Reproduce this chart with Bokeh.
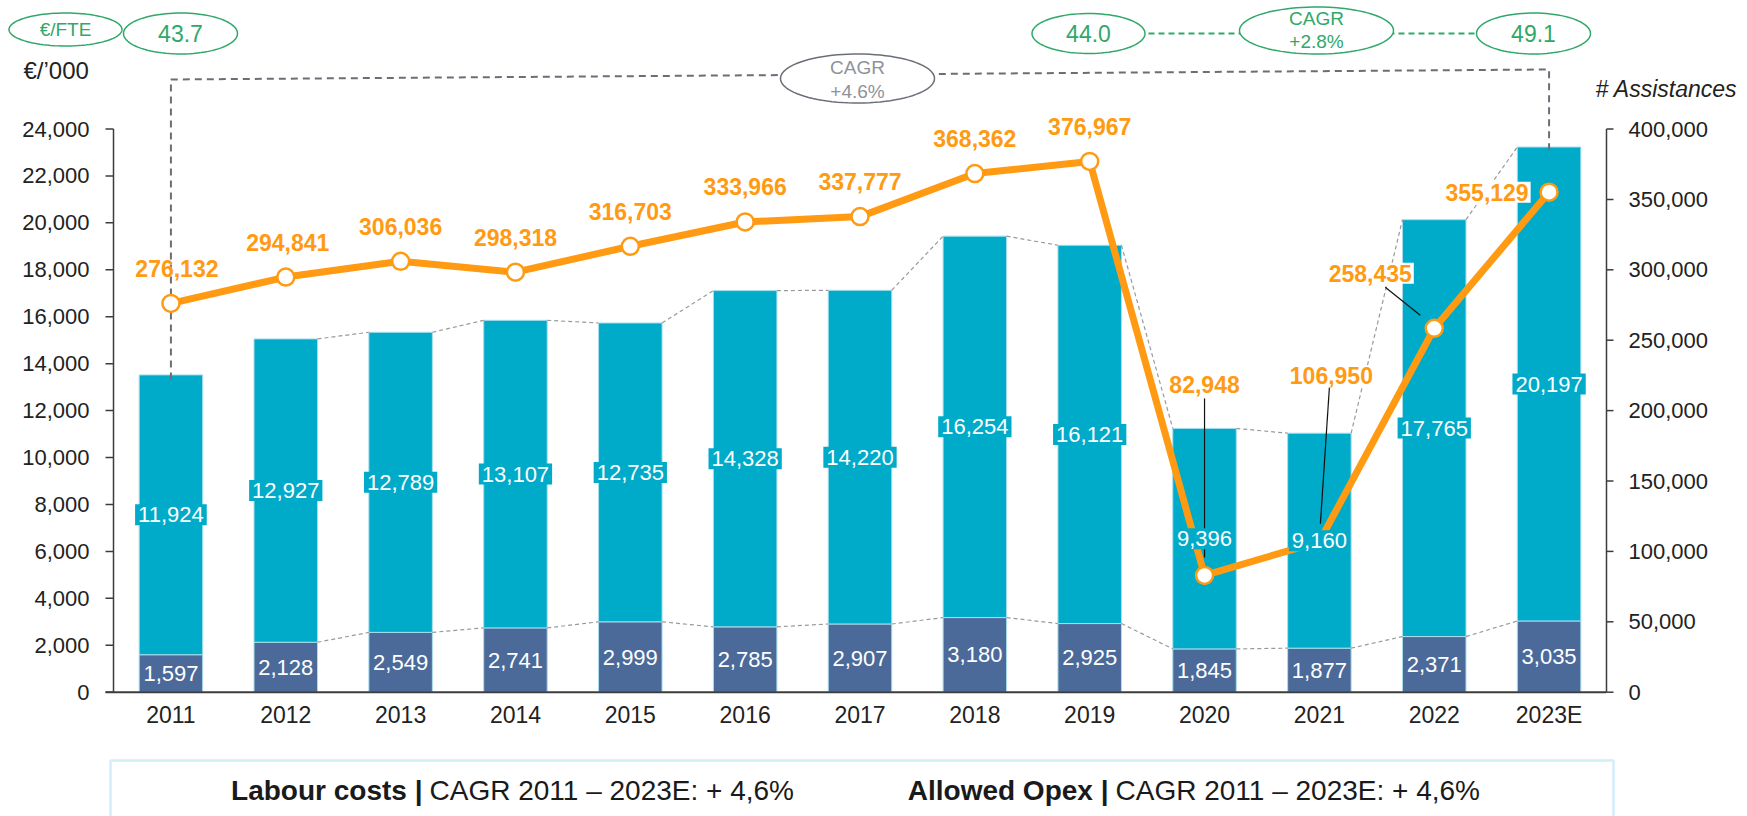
import numpy as np
from bokeh.plotting import figure
from bokeh.models import Range1d, Label, PolyAnnotation, ColumnDataSource
from bokeh.core.properties import value
from bokeh.embed import file_html
from bokeh.resources import INLINE

# ---------------- data ----------------
years = ["2011", "2012", "2013", "2014", "2015", "2016", "2017",
         "2018", "2019", "2020", "2021", "2022", "2023E"]
labour_costs = [1597, 2128, 2549, 2741, 2999, 2785, 2907, 3180, 2925, 1845, 1877, 2371, 3035]
other_opex = [11924, 12927, 12789, 13107, 12735, 14328, 14220, 16254, 16121, 9396, 9160, 17765, 20197]
assistances = [276132, 294841, 306036, 298318, 316703, 333966, 337777,
               368362, 376967, 82948, 106950, 258435, 355129]
left_ticks = [0, 2000, 4000, 6000, 8000, 10000, 12000, 14000, 16000, 18000, 20000, 22000, 24000]
right_ticks = [0, 50000, 100000, 150000, 200000, 250000, 300000, 350000, 400000]
fte_unit = "€/FTE"
fte_2011 = "43.7"
fte_2020 = "44.0"
fte_2023 = "49.1"
fte_cagr = ["CAGR", "+2.8%"]
opex_cagr = ["CAGR", "+4.6%"]
left_title = "€/’000"
right_title = "# Assistances"
caption_bold = ["Labour costs |", "Allowed Opex |"]
caption_text = ["CAGR 2011 – 2023E:  + 4,6%", "CAGR 2011 – 2023E:  + 4,6%"]

# ---------------- style ----------------
TEAL = "#00ABC9"
DARK = "#4B6A99"
EDGE = "#A9DDEC"
ORANGE = "#FF9A12"
GREEN = "#2FA86A"
GRAYLINE = "#6A6F77"
GRAYTXT = "#8E939B"
AXIS = "#3C3C3C"
INK = "#222222"
FONT = "Liberation Sans"

FIG_W, FIG_H = 1747, 816
AX_L_PX, AX_R_PX = 113, 1606      # pixel positions of the two value axes
ZERO_Y = 691.7
PPY = 563.2 / 24000
AX_L, AX_R = -0.5, 12.5           # data positions of the two value axes
PPX = (AX_R_PX - AX_L_PX) / (AX_R - AX_L)
RS = 400000 / 24000
BAR_W = 0.553


def dx(px):
    return AX_L + (px - AX_L_PX) / PPX


def dy(py):
    return (ZERO_Y - py) / PPY


p = figure(width=FIG_W, height=FIG_H, output_backend="svg", toolbar_location=None,
           x_range=Range1d(dx(0), dx(FIG_W)), y_range=Range1d(dy(FIG_H), dy(0)),
           x_axis_location=None, y_axis_location=None,
           min_border_left=0, min_border_right=0, min_border_top=0, min_border_bottom=0,
           outline_line_color=None, background_fill_color="white",
           border_fill_color="white")
p.extra_y_ranges = {"r": Range1d(dy(FIG_H) * RS, dy(0) * RS)}
p.grid.grid_line_color = None

idx = list(range(len(years)))
total = [a + b for a, b in zip(labour_costs, other_opex)]
src = ColumnDataSource(dict(x=idx, base=labour_costs, total=total,
                            mid_top=[a + b / 2 for a, b in zip(labour_costs, other_opex)],
                            mid_base=[a / 2 for a in labour_costs],
                            lab_top=[f"{v:,}" for v in other_opex],
                            lab_base=[f"{v:,}" for v in labour_costs],
                            assist=assistances))

# ---- bars
p.vbar(x="x", bottom=0, top="base", width=BAR_W, fill_color=DARK, line_color=EDGE,
       line_width=1, source=src)
p.vbar(x="x", bottom="base", top="total", width=BAR_W, fill_color=TEAL, line_color=EDGE,
       line_width=1, source=src)

# dashed connectors between bar tops (from 2012 on)
for series in (total, labour_costs):
    x0s = [i + BAR_W / 2 for i in idx[1:-1]]
    x1s = [i + 1 - BAR_W / 2 for i in idx[1:-1]]
    y0s = [series[i] for i in idx[1:-1]]
    y1s = [series[i + 1] for i in idx[1:-1]]
    p.segment(x0=x0s, y0=y0s, x1=x1s, y1=y1s, line_color="#9A9A9A", line_width=1.2,
              line_dash="4 3")

# ---- axes
# x axis
p.segment(x0=[AX_L - 8 / PPX], y0=[0], x1=[AX_R], y1=[0], line_color=AXIS, line_width=2)
p.text(x=idx, y=[0] * len(idx), text=years, y_offset=22.5, text_align="center",
       text_baseline="middle", text_font=value(FONT), text_font_size="23px",
       text_color=INK)
# left value axis
p.segment(x0=[AX_L], y0=[left_ticks[0]], x1=[AX_L], y1=[left_ticks[-1]],
          line_color=AXIS, line_width=1.5)
p.segment(x0=[AX_L - 8 / PPX] * len(left_ticks), y0=left_ticks,
          x1=[AX_L] * len(left_ticks), y1=left_ticks, line_color=AXIS, line_width=1.5)
p.text(x=[AX_L] * len(left_ticks), y=left_ticks, text=[f"{v:,}" for v in left_ticks],
       x_offset=-24, text_align="right", text_baseline="middle", text_font=value(FONT),
       text_font_size="22px", text_color=INK)
# right value axis
p.segment(x0=[AX_R], y0=[right_ticks[0]], x1=[AX_R], y1=[right_ticks[-1]],
          y_range_name="r", line_color=AXIS, line_width=1.5)
p.segment(x0=[AX_R] * len(right_ticks), y0=right_ticks,
          x1=[AX_R + 7 / PPX] * len(right_ticks), y1=right_ticks, y_range_name="r",
          line_color=AXIS, line_width=1.5)
p.text(x=[AX_R] * len(right_ticks), y=right_ticks, text=[f"{v:,}" for v in right_ticks],
       x_offset=22, y_range_name="r", text_align="left", text_baseline="middle",
       text_font=value(FONT), text_font_size="22px", text_color=INK)

# overall CAGR frame line
p.line(x=[idx[0], idx[0], idx[-1], idx[-1]],
       y=[total[0] - 200, dy(79), dy(69), total[-1] - 380],
       line_color=GRAYLINE, line_width=2, line_dash="7 5")

# green dashed connector
p.line(x=[dx(1088), dx(1533)], y=[dy(33), dy(33)], line_color=GREEN, line_width=1.8,
       line_dash="6 4")

# ---- assistances line
p.line(x="x", y="assist", y_range_name="r", source=src, line_color=ORANGE, line_width=7,
       line_join="round")

# leader lines (pixel offsets from the points)
leaders = {9: ((0, -177), (0, -18)), 10: ((10, -154), (1, -18)), 11: ((-49, -41), (-14, -13))}
lx0, ly0, lx1, ly1 = [], [], [], []
for i, ((ax0, ay0), (ax1, ay1)) in leaders.items():
    lx0.append(i + ax0 / PPX)
    ly0.append(assistances[i] - ay0 / PPY * RS)
    lx1.append(i + ax1 / PPX)
    ly1.append(assistances[i] - ay1 / PPY * RS)
p.segment(x0=lx0, y0=ly0, x1=lx1, y1=ly1, y_range_name="r", line_color="#111111",
          line_width=1.2)

p.scatter(x="x", y="assist", y_range_name="r", source=src, size=17, fill_color="white",
          line_color=ORANGE, line_width=2.5)

# segment labels
p.text(x="x", y="mid_top", text="lab_top", source=src, text_align="center",
       text_baseline="middle", text_color="white", text_font=value(FONT),
       text_font_size="22px", background_fill_color=TEAL, padding=3)
p.text(x="x", y="mid_base", text="lab_base", source=src, text_align="center",
       text_baseline="middle", text_color="white", text_font=value(FONT),
       text_font_size="22px")

# assistances labels
lab_dx = [6, 2, 0, 0, 0, 0, 0, 0, 0, 0, 12, -64, -62]
lab_dy = [-35, -35, -35, -35, -35, -35, -35, -35, -35, -191, -166, -55, 0]
lab_bg = [0] + [1] * (len(idx) - 1)
lsrc = ColumnDataSource(dict(x=idx, y=assistances, t=[f"{v:,}" for v in assistances],
                             dxo=lab_dx, dyo=lab_dy, bga=lab_bg))
p.text(x="x", y="y", text="t", x_offset="dxo", y_offset="dyo", source=lsrc,
       y_range_name="r", text_align="center", text_baseline="middle",
       text_color=ORANGE, text_font=value(FONT), text_font_style="bold",
       text_font_size="23px", background_fill_color="white",
       background_fill_alpha="bga", padding=2)


# ---- ellipses and texts (annotations)
def ellipse(cx, cy, w, h, color, lw=1.5):
    t = np.linspace(0, 2 * np.pi, 90)
    xs = [dx(cx + w / 2 * np.cos(a)) for a in t]
    ys = [dy(cy + h / 2 * np.sin(a)) for a in t]
    p.add_layout(PolyAnnotation(xs=xs, ys=ys, fill_color="white", fill_alpha=1,
                                line_color=color, line_alpha=1, line_width=lw))


def label(px, py, text, size, color, align="center", style="normal"):
    p.add_layout(Label(x=dx(px), y=dy(py), text=text, text_align=align,
                       text_baseline="middle", text_font=FONT, text_font_size=size,
                       text_color=color, text_font_style=style))


ellipse(65, 29, 113, 33, GREEN)
ellipse(180, 33, 114, 41, GREEN)
ellipse(1088, 33, 113, 40, GREEN)
ellipse(1316, 30, 154, 47, GREEN)
ellipse(1533, 33, 114, 41, GREEN)
ellipse(857, 78, 154, 49, GRAYLINE)

label(65, 29, fte_unit, "19px", GREEN)
label(180, 33, fte_2011, "23px", GREEN)
label(1088, 33, fte_2020, "23px", GREEN)
label(1533, 33, fte_2023, "23px", GREEN)
label(1316, 18, fte_cagr[0], "19px", GREEN)
label(1316, 41, fte_cagr[1], "19px", GREEN)
label(857, 67, opex_cagr[0], "19px", GRAYTXT)
label(857, 91, opex_cagr[1], "19px", GRAYTXT)
label(23, 70, left_title, "24px", INK, align="left")
label(1595, 88, right_title, "23px", INK, align="left", style="italic")

# caption box
p.add_layout(PolyAnnotation(xs=[dx(110), dx(110), dx(1613), dx(1613)],
                            ys=[dy(840), dy(760), dy(760), dy(840)],
                            fill_color="white", fill_alpha=1,
                            line_color="#D2EEFB", line_alpha=1, line_width=2.5))
label(422, 790, caption_bold[0], "28px", "#1A1A1A", align="right", style="bold")
label(429, 790, caption_text[0], "28px", "#1A1A1A", align="left")
label(1108, 790, caption_bold[1], "28px", "#1A1A1A", align="right", style="bold")
label(1115, 790, caption_text[1], "28px", "#1A1A1A", align="left")

open("out.html", "w").write(file_html(p, INLINE))
